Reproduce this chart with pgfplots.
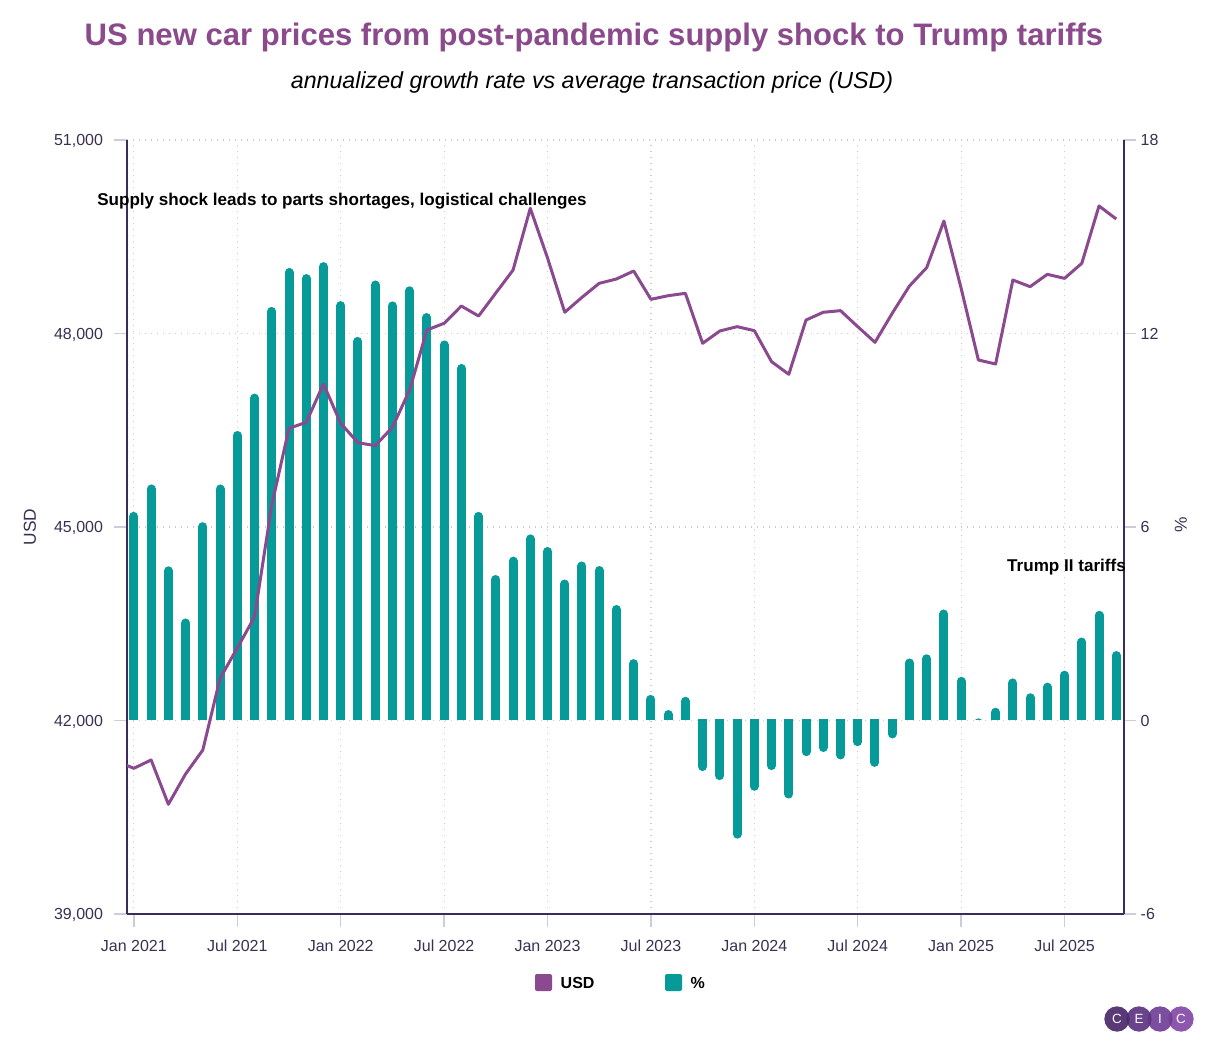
\documentclass[border=0pt]{standalone}
\usepackage{fontspec}
\setmainfont{Liberation Sans}
\usepackage{pgfplots}
\usepackage{pgfplotstable}
\pgfplotsset{compat=1.18}

\definecolor{titlepurple}{HTML}{8B4A8C}
\definecolor{linepurple}{HTML}{8B4A8F}
\definecolor{barteal}{HTML}{069A98}
\definecolor{axisink}{HTML}{3B2C5B}
\definecolor{ticklab}{HTML}{3A3052}
\definecolor{tickgray}{HTML}{CFCBD8}
\definecolor{gridgray}{HTML}{CCCCCC}
\definecolor{logoA}{HTML}{4B2A6B}
\definecolor{logoB}{HTML}{5E3582}
\definecolor{logoC}{HTML}{713F97}
\definecolor{logoD}{HTML}{8549A8}

% Average transaction price, USD (month index 0 = Jan 2021)
\pgfplotstableread{
m usd
-1 41366
0 41259
1 41388
2 40701
3 41171
4 41543
5 42654
6 43124
7 43605
8 45341
9 46530
10 46623
11 47217
12 46607
13 46307
14 46261
15 46545
16 47124
17 48054
18 48158
19 48426
20 48271
21 48628
22 48984
23 49941
24 49171
25 48329
26 48561
27 48778
28 48845
29 48969
30 48530
31 48586
32 48623
33 47848
34 48039
35 48106
36 48044
37 47563
38 47367
39 48209
40 48329
41 48354
42 48106
43 47863
44 48313
45 48736
46 49021
47 49744
48 48700
49 47589
50 47527
51 48829
52 48726
53 48917
54 48855
55 49088
56 49977
57 49775
}\usdtable

% Annualized growth rate, %
\pgfplotstableread{
m pct
0 6.46
1 7.31
2 4.77
3 3.15
4 6.14
5 7.31
6 8.97
7 10.13
8 12.82
9 14.03
10 13.84
11 14.21
12 13.00
13 11.89
14 13.64
15 12.99
16 13.46
17 12.63
18 11.78
19 11.05
20 6.46
21 4.50
22 5.07
23 5.76
24 5.37
25 4.36
26 4.92
27 4.78
28 3.57
29 1.89
30 0.78
31 0.31
32 0.72
33 -1.58
34 -1.86
35 -3.67
36 -2.19
37 -1.55
38 -2.43
39 -1.12
40 -0.99
41 -1.22
42 -0.81
43 -1.45
44 -0.57
45 1.91
46 2.04
47 3.43
48 1.34
49 0.05
50 0.38
51 1.29
52 0.83
53 1.16
54 1.53
55 2.56
56 3.39
57 2.14
}\pcttable

\pgfplotsset{
  base/.style={scale only axis, width=747.75pt, xmin=-0.4, xmax=57.45,
    enlargelimits=false, anchor=south west},
  hidden/.style={base, hide axis},
  ticklabfont/.style={font=\fontsize{12}{14}\selectfont, color=ticklab},
  bars/.style={ycomb, no markers, barteal, line width=6.75pt, line cap=round},
}

\begin{document}
\begin{tikzpicture}
\begin{scope}[x=0.75pt,y=0.75pt]
\path[use as bounding box, fill=white] (0,0) rectangle (1210,1050);
\end{scope}

% growth-rate scale on the right, with the dotted grid
\begin{axis}[base, at={(95.25pt,102pt)}, height=580.5pt,
  ymin=-6, ymax=18, ytick={-6,0,6,12,18},
  axis y line*=right, axis x line*=bottom,
  x axis line style={draw=none}, y axis line style={axisink, line width=1pt, -},
  xtick={0,6,...,54}, xticklabels={}, xtick style={draw=none},
  ytick style={tickgray, line width=1pt},
  tick align=outside, major tick length=9pt,
  xmajorgrids, ymajorgrids,
  major grid style={gridgray, line width=0.9pt, dash pattern=on 0.9pt off 3.6pt},
  yticklabel style={ticklabfont},
  /pgf/number format/assume math mode=true,
]
\addplot[draw=none] coordinates {(0,0)};
\end{axis}

% positive growth bars (clipped at zero)
\begin{axis}[hidden, at={(95.25pt,247.5pt)}, height=435pt, ymin=0, ymax=18]
\addplot[bars, yshift=-3.375pt] table[x=m, y=pct] {\pcttable};
\end{axis}

% negative growth bars (clipped at zero)
\begin{axis}[hidden, at={(95.25pt,102pt)}, height=145.5pt, ymin=-6, ymax=0]
\addplot[bars, yshift=3.375pt] table[x=m, y=pct] {\pcttable};
\end{axis}

% price line with the left scale and the month axis
\begin{axis}[base, at={(95.25pt,102pt)}, height=580.5pt,
  ymin=39000, ymax=51000, ytick={39000,42000,...,51000},
  axis x line*=bottom, axis y line*=left,
  axis line style={axisink, line width=1pt, -},
  xtick={0,6,...,54},
  xticklabels={Jan 2021, Jul 2021, Jan 2022, Jul 2022, Jan 2023, Jul 2023, Jan 2024, Jul 2024, Jan 2025, Jul 2025},
  tick align=outside, major tick length=10pt,
  tick style={tickgray, line width=1pt},
  xticklabel style={ticklabfont, yshift=-6pt},
  yticklabel style={ticklabfont, xshift=-4.5pt, yshift=-1pt},
  scaled y ticks=false,
  /pgf/number format/assume math mode=true,
  /pgf/number format/1000 sep={,},
]
\addplot[linepurple, line width=2.25pt, line join=round, no markers] table[x=m, y=usd] {\usdtable};
\end{axis}

\begin{scope}[x=0.75pt,y=0.75pt]
% annotations
\node[anchor=west, inner sep=0pt, font=\bfseries\fontsize{12.8}{14}\selectfont] at (97,849)
  {Supply shock leads to parts shortages, logistical challenges};
\node[anchor=east, inner sep=0pt, font=\bfseries\fontsize{12.8}{14}\selectfont] at (1126,483)
  {Trump II tariffs};

% titles
\node[font=\bfseries\fontsize{23.3}{27}\selectfont, color=titlepurple] at (594,1013)
  {US new car prices from post-pandemic supply shock to Trump tariffs};
\node[font=\itshape\fontsize{17.4}{20}\selectfont] at (592,967)
  {annualized growth rate vs average transaction price (USD)};

% axis titles
\node[rotate=90, font=\fontsize{13}{15}\selectfont, color=ticklab] at (30,523) {USD};
\node[rotate=90, font=\fontsize{13}{15}\selectfont, color=ticklab] at (1181,525) {\%};

% legend
\fill[linepurple, rounded corners=1.5pt] (535,59) rectangle (552,76);
\node[anchor=west, font=\bfseries\fontsize{12}{14}\selectfont] at (556,67.5) {USD};
\fill[barteal, rounded corners=1.5pt] (665,59) rectangle (682,76);
\node[anchor=west, font=\bfseries\fontsize{12}{14}\selectfont] at (686,67.5) {\%};

% logo
\begin{scope}[font=\fontsize{10}{12}\selectfont, text=white]
  \fill[logoD, opacity=0.92] (1181,31) circle (12.7);
  \fill[logoC, opacity=0.92] (1160,31) circle (12.7);
  \fill[logoB, opacity=0.92] (1139,31) circle (12.7);
  \fill[logoA, opacity=0.92] (1117,31) circle (12.7);
  \node at (1117,31) {C};
  \node at (1139,31) {E};
  \node at (1160,31) {I};
  \node at (1181,31) {C};
\end{scope}
\end{scope}
\end{tikzpicture}
\end{document}
